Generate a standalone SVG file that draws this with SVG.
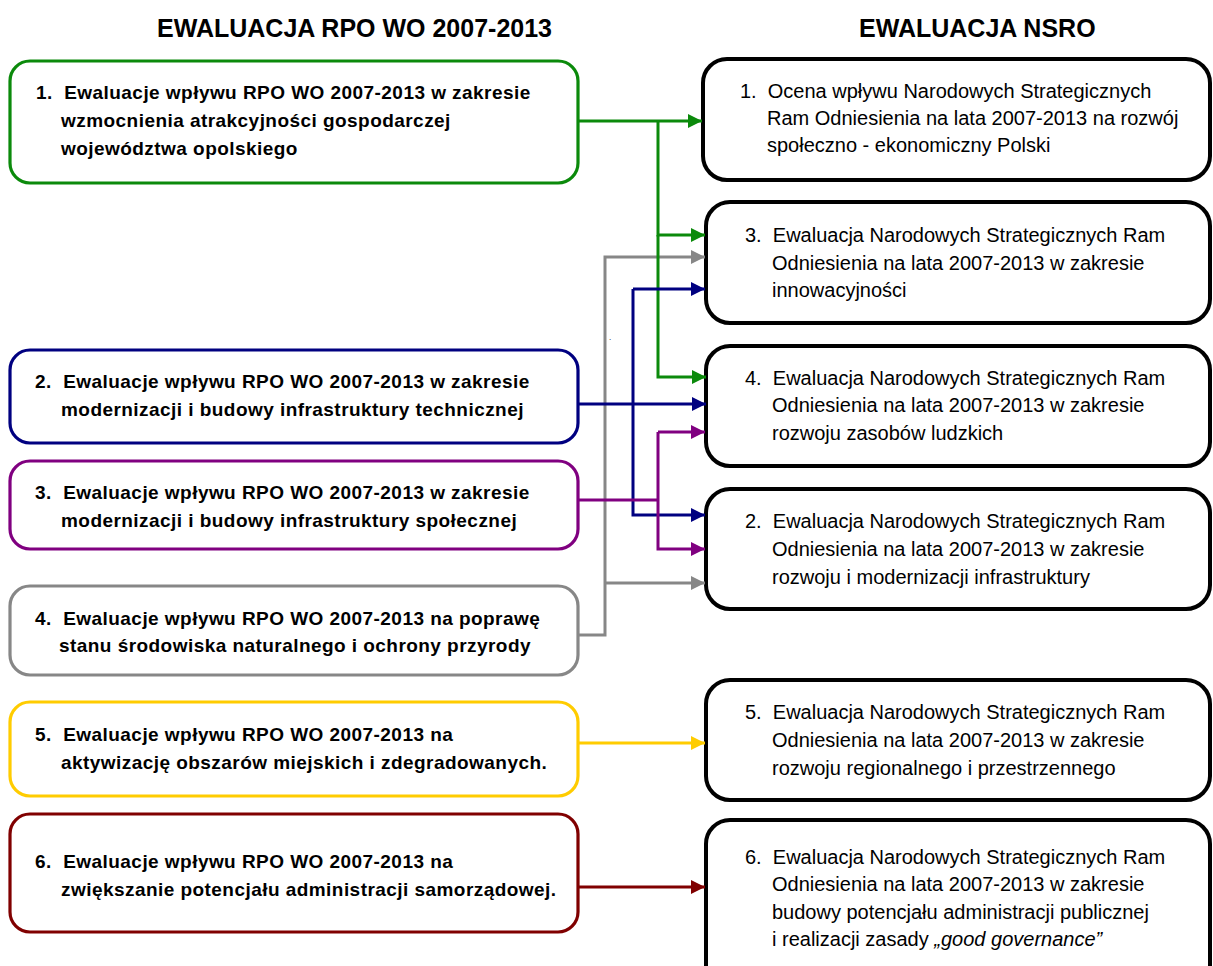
<svg xmlns="http://www.w3.org/2000/svg" width="1213" height="966" viewBox="0 0 1213 966">
<defs>
<style>
.lbox{fill:#fff;stroke-width:3.2}
.rbox{fill:#fff;stroke:#000;stroke-width:4}
.lt{font-family:"Liberation Sans",Arial,sans-serif;font-weight:bold;font-size:19px;fill:#000;letter-spacing:0.45px;white-space:pre}
.rt{font-family:"Liberation Sans",Arial,sans-serif;font-size:20px;fill:#000;white-space:pre}
.title{font-family:"Liberation Sans",Arial,sans-serif;font-weight:bold;font-size:25px;fill:#000}
.c{fill:none;stroke-width:3}
</style>
<marker id="ag" markerUnits="userSpaceOnUse" markerWidth="15" markerHeight="15" refX="14" refY="7" orient="auto"><path d="M0,0 L14,7 L0,14 z" fill="#0b8a0b"/></marker>
<marker id="ab" markerUnits="userSpaceOnUse" markerWidth="15" markerHeight="15" refX="14" refY="7" orient="auto"><path d="M0,0 L14,7 L0,14 z" fill="#000080"/></marker>
<marker id="ap" markerUnits="userSpaceOnUse" markerWidth="15" markerHeight="15" refX="14" refY="7" orient="auto"><path d="M0,0 L14,7 L0,14 z" fill="#800080"/></marker>
<marker id="ay" markerUnits="userSpaceOnUse" markerWidth="15" markerHeight="15" refX="14" refY="7" orient="auto"><path d="M0,0 L14,7 L0,14 z" fill="#878787"/></marker>
<marker id="aw" markerUnits="userSpaceOnUse" markerWidth="15" markerHeight="15" refX="14" refY="7" orient="auto"><path d="M0,0 L14,7 L0,14 z" fill="#ffcc00"/></marker>
<marker id="ar" markerUnits="userSpaceOnUse" markerWidth="15" markerHeight="15" refX="14" refY="7" orient="auto"><path d="M0,0 L14,7 L0,14 z" fill="#800000"/></marker>
</defs>
<rect width="1213" height="966" fill="#fff"/>

<text class="title" x="157" y="37">EWALUACJA RPO WO 2007-2013</text>
<text class="title" x="859" y="37">EWALUACJA NSRO</text>

<g id="L1">
<rect class="lbox" x="10" y="61" width="568" height="122" rx="20" stroke="#0b8a0b"/>
<text class="lt" x="36" y="99">1.  Ewaluacje wpływu RPO WO 2007-2013 w zakresie</text>
<text class="lt" x="61" y="127">wzmocnienia atrakcyjności gospodarczej</text>
<text class="lt" x="61" y="155">województwa opolskiego</text>
</g>
<g id="L2">
<rect class="lbox" x="10" y="350" width="568" height="93" rx="20" stroke="#000080"/>
<text class="lt" x="35" y="388">2.  Ewaluacje wpływu RPO WO 2007-2013 w zakresie</text>
<text class="lt" x="61" y="416">modernizacji i budowy infrastruktury technicznej</text>
</g>
<g id="L3">
<rect class="lbox" x="10" y="461" width="568" height="88" rx="20" stroke="#800080"/>
<text class="lt" x="35" y="499">3.  Ewaluacje wpływu RPO WO 2007-2013 w zakresie</text>
<text class="lt" x="61" y="527">modernizacji i budowy infrastruktury społecznej</text>
</g>
<g id="L4">
<rect class="lbox" x="10" y="586" width="568" height="89" rx="20" stroke="#878787"/>
<text class="lt" x="35" y="625">4.  Ewaluacje wpływu RPO WO 2007-2013 na poprawę</text>
<text class="lt" x="59" y="652">stanu środowiska naturalnego i ochrony przyrody</text>
</g>
<g id="L5">
<rect class="lbox" x="10" y="702" width="568" height="94" rx="20" stroke="#ffcc00"/>
<text class="lt" x="35" y="741">5.  Ewaluacje wpływu RPO WO 2007-2013 na</text>
<text class="lt" x="61" y="769">aktywizację obszarów miejskich i zdegradowanych.</text>
</g>
<g id="L6">
<rect class="lbox" x="10" y="814" width="568" height="118" rx="20" stroke="#800000"/>
<text class="lt" x="35" y="868">6.  Ewaluacje wpływu RPO WO 2007-2013 na</text>
<text class="lt" x="61" y="896">zwiększanie potencjału administracji samorządowej.</text>
</g>

<g id="R1">
<rect class="rbox" x="703" y="59" width="507" height="121" rx="24"/>
<text class="rt" x="740" y="98">1.  Ocena wpływu Narodowych Strategicznych</text>
<text class="rt" x="767" y="125">Ram Odniesienia na lata 2007-2013 na rozwój</text>
<text class="rt" x="767" y="152">społeczno - ekonomiczny Polski</text>
</g>
<g id="R3">
<rect class="rbox" x="706" y="202" width="504" height="121" rx="24"/>
<text class="rt" x="745" y="242">3.  Ewaluacja Narodowych Strategicznych Ram</text>
<text class="rt" x="772" y="270">Odniesienia na lata 2007-2013 w zakresie</text>
<text class="rt" x="772" y="297">innowacyjności</text>
</g>
<g id="R4">
<rect class="rbox" x="706" y="346" width="504" height="120" rx="24"/>
<text class="rt" x="745" y="385">4.  Ewaluacja Narodowych Strategicznych Ram</text>
<text class="rt" x="772" y="412">Odniesienia na lata 2007-2013 w zakresie</text>
<text class="rt" x="772" y="440">rozwoju zasobów ludzkich</text>
</g>
<g id="R2">
<rect class="rbox" x="706" y="489" width="504" height="120" rx="24"/>
<text class="rt" x="745" y="528">2.  Ewaluacja Narodowych Strategicznych Ram</text>
<text class="rt" x="772" y="556">Odniesienia na lata 2007-2013 w zakresie</text>
<text class="rt" x="772" y="584">rozwoju i modernizacji infrastruktury</text>
</g>
<g id="R5">
<rect class="rbox" x="706" y="680" width="504" height="120" rx="24"/>
<text class="rt" x="745" y="719">5.  Ewaluacja Narodowych Strategicznych Ram</text>
<text class="rt" x="772" y="747">Odniesienia na lata 2007-2013 w zakresie</text>
<text class="rt" x="772" y="775">rozwoju regionalnego i przestrzennego</text>
</g>
<g id="R6">
<rect class="rbox" x="706" y="820" width="504" height="170" rx="24"/>
<text class="rt" x="745" y="864">6.  Ewaluacja Narodowych Strategicznych Ram</text>
<text class="rt" x="772" y="891">Odniesienia na lata 2007-2013 w zakresie</text>
<text class="rt" x="772" y="919">budowy potencjału administracji publicznej</text>
<text class="rt" x="772" y="946">i realizacji zasady <tspan font-style="italic">„good governance”</tspan></text>
</g>

<g id="connectors">
<path class="c" stroke="#878787" d="M578,635 H605 V257 H705" marker-end="url(#ay)"/>
<path class="c" stroke="#878787" d="M605,583 H705" marker-end="url(#ay)"/>
<path class="c" stroke="#0b8a0b" d="M578,121 H702" marker-end="url(#ag)"/>
<path class="c" stroke="#0b8a0b" d="M658,121 V235 H705" marker-end="url(#ag)"/>
<path class="c" stroke="#0b8a0b" d="M658,235 V377 H706" marker-end="url(#ag)"/>
<path class="c" stroke="#000080" d="M578,404 H706" marker-end="url(#ab)"/>
<path class="c" stroke="#000080" d="M633,289 H705" marker-end="url(#ab)"/>
<path class="c" stroke="#000080" d="M633,289 V515 H705" marker-end="url(#ab)"/>
<path class="c" stroke="#800080" d="M578,500 H658"/>
<path class="c" stroke="#800080" d="M658,432 V549 H705" marker-end="url(#ap)"/>
<path class="c" stroke="#800080" d="M658,432 H705" marker-end="url(#ap)"/>
<path class="c" stroke="#ffcc00" d="M578,743 H705" marker-end="url(#aw)"/>
<path class="c" stroke="#800000" d="M578,887 H705" marker-end="url(#ar)"/>
</g>
<text x="609" y="340" font-family="Liberation Sans, sans-serif" font-size="8" fill="#000">.</text>
</svg>
